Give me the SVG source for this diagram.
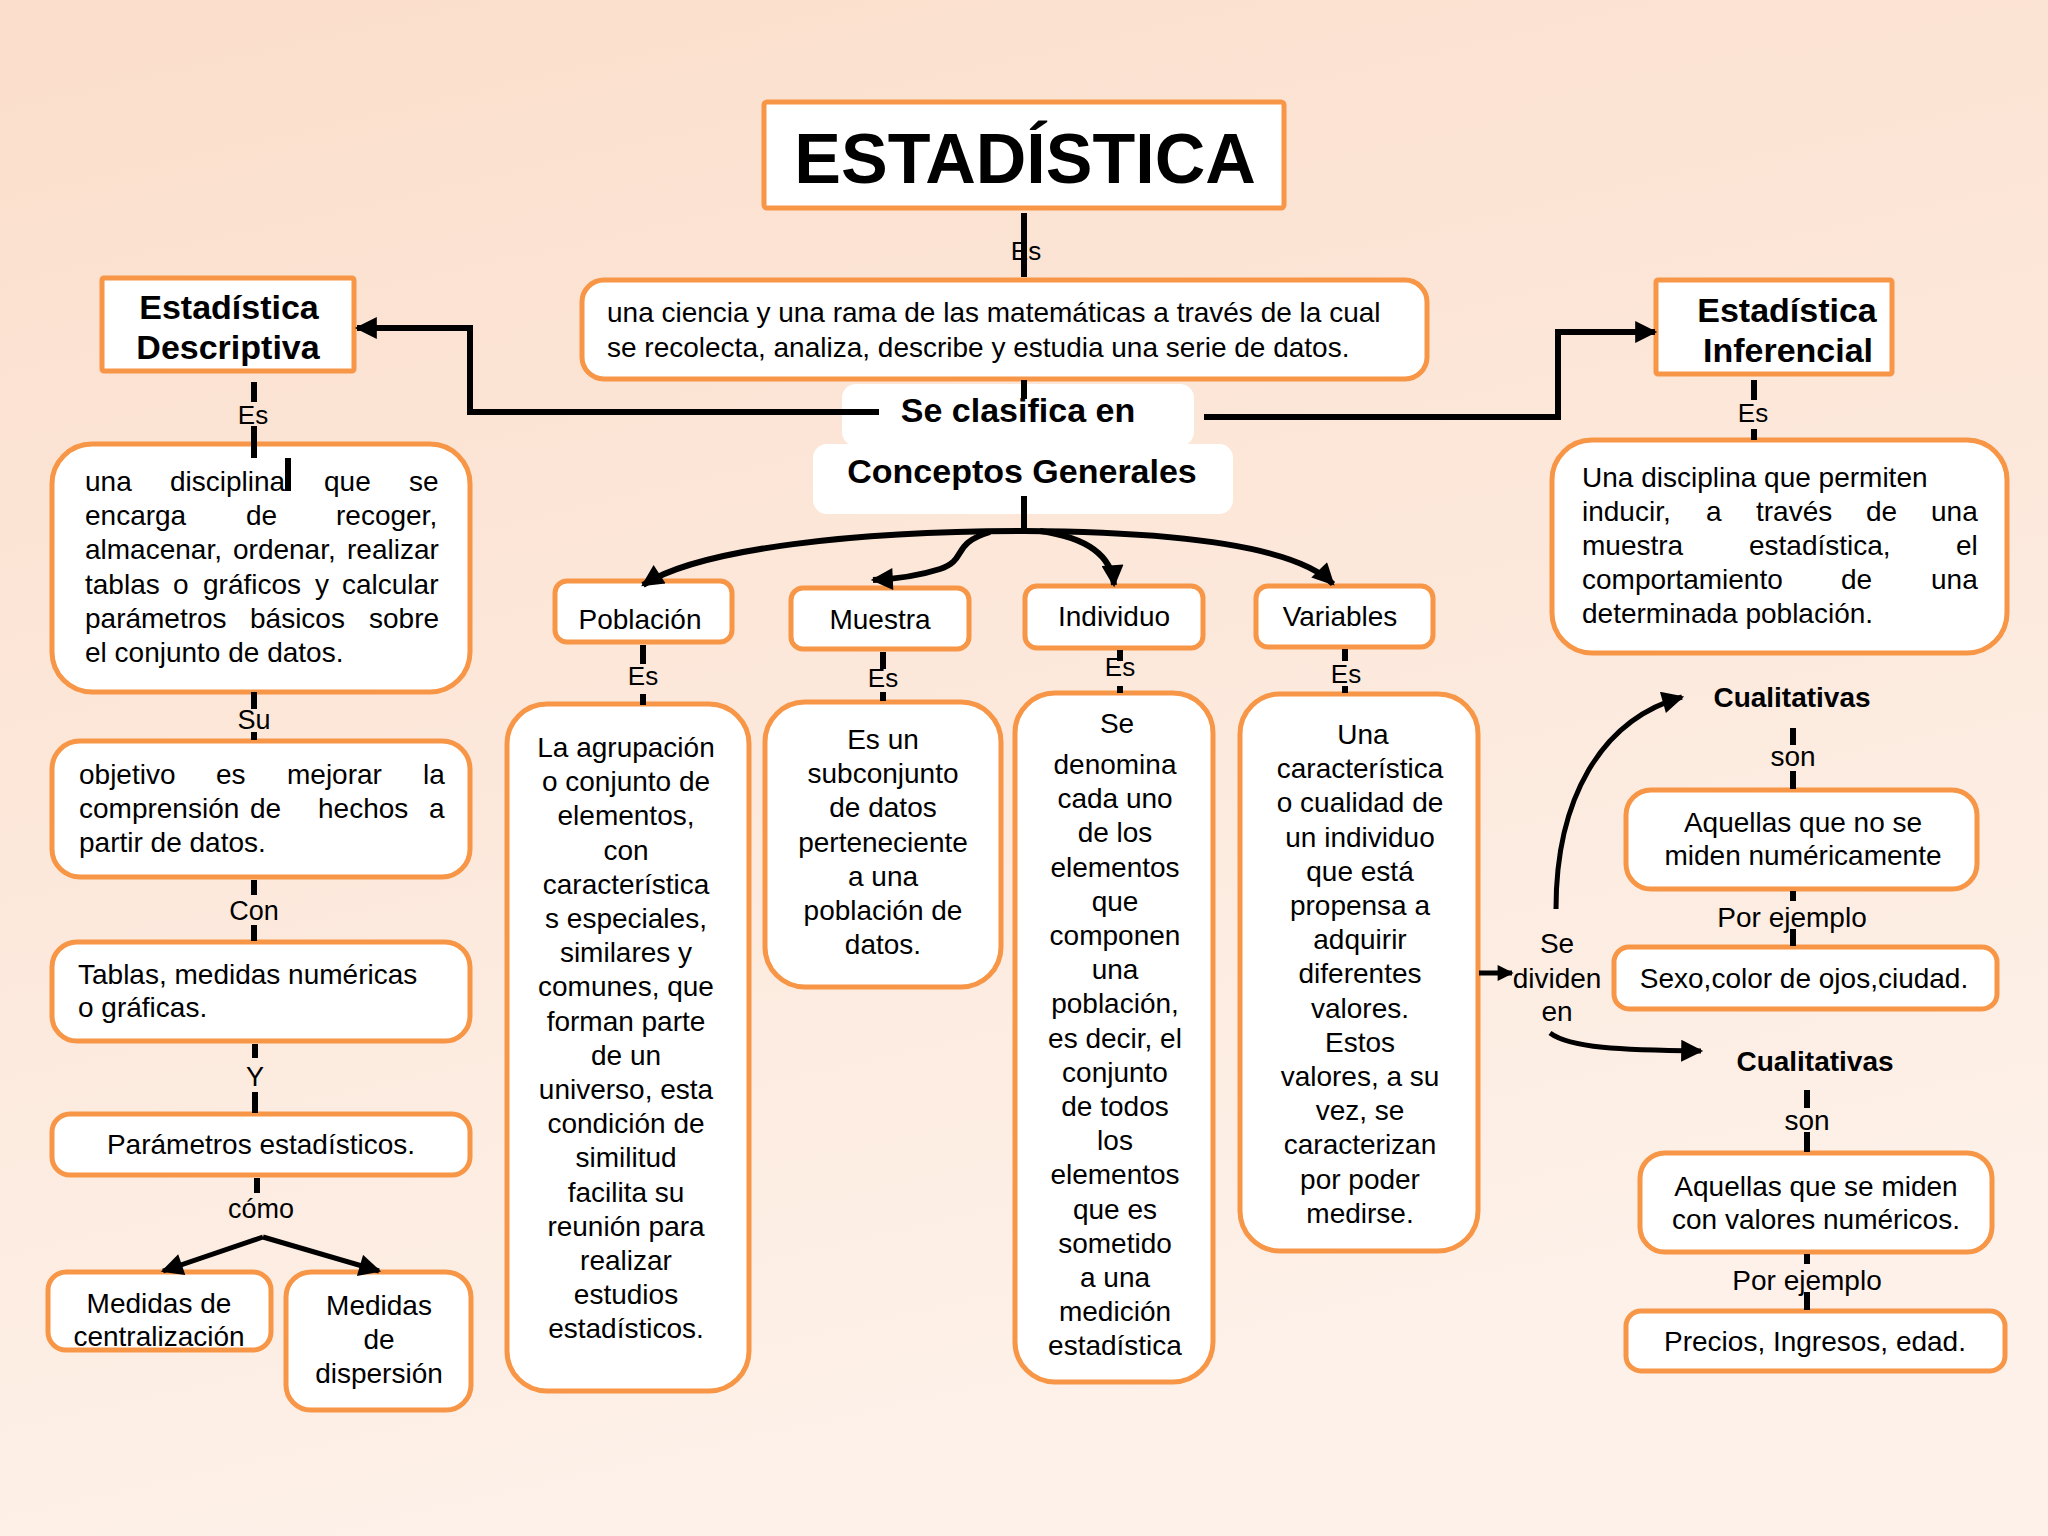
<svg xmlns="http://www.w3.org/2000/svg" width="2048" height="1536" viewBox="0 0 2048 1536">
<defs>
<linearGradient id="bg" x1="0" y1="0" x2="0.3" y2="1">
<stop offset="0" stop-color="#FBDECB"/>
<stop offset="1" stop-color="#FDF1E9"/>
</linearGradient>
<marker id="ah" viewBox="0 0 10 10" refX="9" refY="5" markerWidth="24" markerHeight="22" markerUnits="userSpaceOnUse" orient="auto"><path d="M0,0 L10,5 L0,10 z" fill="#000"/></marker>
<marker id="ahs" viewBox="0 0 10 10" refX="9" refY="5" markerWidth="18" markerHeight="16" markerUnits="userSpaceOnUse" orient="auto"><path d="M0,0 L10,5 L0,10 z" fill="#000"/></marker>
<style>
.t{font-family:"Liberation Sans",Arial,sans-serif;font-size:28px;fill:#000}
.b{font-weight:bold}
.c{text-anchor:middle}
.l{font-family:"Liberation Sans",Arial,sans-serif;font-size:27px;fill:#000;text-anchor:middle}
.box{fill:#fff;stroke:#F79646;stroke-width:5}
.wb{fill:#fff;stroke:none}
.ln{stroke:#000;stroke-width:6;fill:none}
.ar{stroke:#000;stroke-width:6;fill:none;marker-end:url(#ah)}
</style>
</defs>
<rect x="0" y="0" width="2048" height="1536" fill="url(#bg)"/>

<g id="titulo">
<rect class="box" x="764" y="102" width="520" height="106" rx="3"/>
<text class="t b c" x="1025" y="183" style="font-size:70px">ESTADÍSTICA</text>
</g>

<g id="definicion">
<rect class="box" x="582" y="280" width="845" height="99" rx="22"/>
<text class="t" x="607" y="322">una ciencia y una rama de las matemáticas a través de la cual</text>
<text class="t" x="607" y="357">se recolecta, analiza, describe y estudia una serie de datos.</text>
</g>

<g id="se-clasifica">
<rect class="wb" x="842" y="384" width="352" height="62" rx="14"/>
<rect class="wb" x="813" y="444" width="420" height="70" rx="14"/>
<text class="t b c" x="1018" y="422" style="font-size:34px">Se clasifica en</text>
<text class="t b c" x="1022" y="483" style="font-size:34px">Conceptos Generales</text>
</g>

<g id="descriptiva">
<rect class="box" x="102" y="278" width="252" height="93" rx="2"/>
<text class="t b c" x="229" y="319" style="font-size:34px">Estadística</text>
<text class="t b c" x="228" y="359" style="font-size:34px">Descriptiva</text>
</g>

<g id="inferencial">
<rect class="box" x="1656" y="280" width="236" height="94" rx="2"/>
<text class="t b c" x="1787" y="322" style="font-size:34px">Estadística</text>
<text class="t b c" x="1788" y="362" style="font-size:34px">Inferencial</text>
</g>

<g id="descriptiva-def">
<rect class="box" x="52" y="444" width="418" height="248" rx="40"/>
<text class="t" y="491"><tspan x="85">una</tspan><tspan x="170">disciplina</tspan><tspan x="324">que</tspan><tspan x="409">se</tspan></text>
<text class="t" y="525"><tspan x="85">encarga</tspan><tspan x="246">de</tspan><tspan x="336">recoger,</tspan></text>
<text class="t" y="559"><tspan x="85">almacenar,</tspan><tspan x="233">ordenar,</tspan><tspan x="347">realizar</tspan></text>
<text class="t" y="594"><tspan x="85">tablas</tspan><tspan x="173">o</tspan><tspan x="203">gráficos</tspan><tspan x="315">y</tspan><tspan x="342">calcular</tspan></text>
<text class="t" y="628"><tspan x="85">parámetros</tspan><tspan x="250">básicos</tspan><tspan x="369">sobre</tspan></text>
<text class="t" x="85" y="662">el conjunto de datos.</text>
</g>

<g id="objetivo">
<rect class="box" x="52" y="741" width="418" height="136" rx="28"/>
<text class="t" y="784"><tspan x="79">objetivo</tspan><tspan x="216">es</tspan><tspan x="287">mejorar</tspan><tspan x="423">la</tspan></text>
<text class="t" y="818"><tspan x="79">comprensión</tspan><tspan x="250">de</tspan><tspan x="318">hechos</tspan><tspan x="429">a</tspan></text>
<text class="t" x="79" y="852">partir de datos.</text>
</g>

<g id="tablas">
<rect class="box" x="52" y="942" width="418" height="99" rx="25"/>
<text class="t" x="78" y="984">Tablas, medidas numéricas</text>
<text class="t" x="78" y="1017">o gráficas.</text>
</g>

<g id="parametros">
<rect class="box" x="52" y="1114" width="418" height="61" rx="18"/>
<text class="t c" x="261" y="1154">Parámetros estadísticos.</text>
</g>

<g id="centralizacion">
<rect class="box" x="48" y="1272" width="223" height="78" rx="18"/>
<text class="t c" x="159" y="1313">Medidas de</text>
<text class="t c" x="159" y="1346">centralización</text>
</g>

<g id="dispersion">
<rect class="box" x="286" y="1272" width="185" height="138" rx="25"/>
<text class="t c" x="379" y="1315">Medidas</text>
<text class="t c" x="379" y="1349">de</text>
<text class="t c" x="379" y="1383">dispersión</text>
</g>

<g id="poblacion">
<rect class="box" x="555" y="581" width="177" height="61" rx="12"/>
<text class="t c" x="640" y="629">Población</text>
</g>
<g id="poblacion-def">
<rect class="box" x="507" y="704" width="242" height="687" rx="40"/>
<text class="t c" x="626" y="757"><tspan x="626">La agrupación</tspan><tspan x="626" dy="34.2">o conjunto de</tspan><tspan x="626" dy="34.2">elementos,</tspan><tspan x="626" dy="34.2">con</tspan><tspan x="626" dy="34.2">característica</tspan><tspan x="626" dy="34.2">s especiales,</tspan><tspan x="626" dy="34.2">similares y</tspan><tspan x="626" dy="34.2">comunes, que</tspan><tspan x="626" dy="34.2">forman parte</tspan><tspan x="626" dy="34.2">de un</tspan><tspan x="626" dy="34.2">universo, esta</tspan><tspan x="626" dy="34.2">condición de</tspan><tspan x="626" dy="34.2">similitud</tspan><tspan x="626" dy="34.2">facilita su</tspan><tspan x="626" dy="34.2">reunión para</tspan><tspan x="626" dy="34.2">realizar</tspan><tspan x="626" dy="34.2">estudios</tspan><tspan x="626" dy="34.2">estadísticos.</tspan></text>
</g>

<g id="muestra">
<rect class="box" x="791" y="588" width="178" height="61" rx="12"/>
<text class="t c" x="880" y="629">Muestra</text>
</g>
<g id="muestra-def">
<rect class="box" x="765" y="702" width="236" height="285" rx="40"/>
<text class="t c" x="883" y="749"><tspan x="883">Es un</tspan><tspan x="883" dy="34.2">subconjunto</tspan><tspan x="883" dy="34.2">de datos</tspan><tspan x="883" dy="34.2">perteneciente</tspan><tspan x="883" dy="34.2">a una</tspan><tspan x="883" dy="34.2">población de</tspan><tspan x="883" dy="34.2">datos.</tspan></text>
</g>

<g id="individuo">
<rect class="box" x="1025" y="586" width="178" height="62" rx="12"/>
<text class="t c" x="1114" y="626">Individuo</text>
</g>
<g id="individuo-def">
<rect class="box" x="1015" y="693" width="198" height="689" rx="40"/>
<text class="t c" x="1117" y="733">Se</text>
<text class="t c" x="1115" y="774"><tspan x="1115">denomina</tspan><tspan x="1115" dy="34.2">cada uno</tspan><tspan x="1115" dy="34.2">de los</tspan><tspan x="1115" dy="34.2">elementos</tspan><tspan x="1115" dy="34.2">que</tspan><tspan x="1115" dy="34.2">componen</tspan><tspan x="1115" dy="34.2">una</tspan><tspan x="1115" dy="34.2">población,</tspan><tspan x="1115" dy="34.2">es decir, el</tspan><tspan x="1115" dy="34.2">conjunto</tspan><tspan x="1115" dy="34.2">de todos</tspan><tspan x="1115" dy="34.2">los</tspan><tspan x="1115" dy="34.2">elementos</tspan><tspan x="1115" dy="34.2">que es</tspan><tspan x="1115" dy="34.2">sometido</tspan><tspan x="1115" dy="34.2">a una</tspan><tspan x="1115" dy="34.2">medición</tspan><tspan x="1115" dy="34.2">estadística</tspan></text>
</g>

<g id="variables">
<rect class="box" x="1256" y="586" width="177" height="61" rx="12"/>
<text class="t c" x="1340" y="626">Variables</text>
</g>
<g id="variables-def">
<rect class="box" x="1240" y="694" width="238" height="557" rx="40"/>
<text class="t c" x="1360" y="744"><tspan x="1363">Una</tspan><tspan x="1360" dy="34.2">característica</tspan><tspan x="1360" dy="34.2">o cualidad de</tspan><tspan x="1360" dy="34.2">un individuo</tspan><tspan x="1360" dy="34.2">que está</tspan><tspan x="1360" dy="34.2">propensa a</tspan><tspan x="1360" dy="34.2">adquirir</tspan><tspan x="1360" dy="34.2">diferentes</tspan><tspan x="1360" dy="34.2">valores.</tspan><tspan x="1360" dy="34.2">Estos</tspan><tspan x="1360" dy="34.2">valores, a su</tspan><tspan x="1360" dy="34.2">vez, se</tspan><tspan x="1360" dy="34.2">caracterizan</tspan><tspan x="1360" dy="34.2">por poder</tspan><tspan x="1360" dy="34.2">medirse.</tspan></text>
</g>

<g id="inferencial-def">
<rect class="box" x="1552" y="440" width="455" height="213" rx="40"/>
<text class="t" x="1582" y="487">Una disciplina que permiten</text>
<text class="t" y="521"><tspan x="1582">inducir,</tspan><tspan x="1706">a</tspan><tspan x="1756">través</tspan><tspan x="1866">de</tspan><tspan x="1931">una</tspan></text>
<text class="t" y="555"><tspan x="1582">muestra</tspan><tspan x="1749">estadística,</tspan><tspan x="1956">el</tspan></text>
<text class="t" y="589"><tspan x="1582">comportamiento</tspan><tspan x="1841">de</tspan><tspan x="1931">una</tspan></text>
<text class="t" x="1582" y="623">determinada población.</text>
</g>

<g id="cualitativas-1">
<text class="t b c" x="1792" y="707">Cualitativas</text>
</g>
<g id="no-numericas">
<rect class="box" x="1626" y="790" width="351" height="99" rx="25"/>
<text class="t c" x="1803" y="832">Aquellas que no se</text>
<text class="t c" x="1803" y="865">miden numéricamente</text>
</g>
<g id="ejemplo-1">
<rect class="box" x="1614" y="947" width="383" height="62" rx="15"/>
<text class="t c" x="1804" y="988">Sexo,color de ojos,ciudad.</text>
</g>
<g id="cualitativas-2">
<text class="t b c" x="1815" y="1071">Cualitativas</text>
</g>
<g id="numericas">
<rect class="box" x="1640" y="1153" width="352" height="99" rx="25"/>
<text class="t c" x="1816" y="1196">Aquellas que se miden</text>
<text class="t c" x="1816" y="1229">con valores numéricos.</text>
</g>
<g id="ejemplo-2">
<rect class="box" x="1626" y="1311" width="379" height="60" rx="15"/>
<text class="t c" x="1815" y="1351">Precios, Ingresos, edad.</text>
</g>

<g id="connectors">
<!-- title to definition -->
<path class="ln" d="M1024,213 V277"/>
<text class="l" x="1026" y="260" style="font-size:26px">Es</text>
<path class="ln" d="M1024,380 V399"/>
<path class="ln" d="M1024,496 V533"/>
<!-- elbow arrows -->
<path class="ar" d="M879,412 H470 V328 H357"/>
<path class="ar" d="M1204,417 H1558 V332 H1655"/>
<!-- curves from Conceptos Generales -->
<path class="ar" d="M1024,531 C860,531 700,548 643,585"/>
<path class="ar" d="M990,532 C950,544 968,560 940,569 C915,577 895,579 873,580"/>
<path class="ar" d="M1040,531 C1090,538 1112,558 1114,585"/>
<path class="ar" d="M1024,531 C1200,532 1300,550 1333,584"/>
<!-- Descriptiva chain -->
<path class="ln" d="M254,382 V402 M254,426 V458"/>
<text class="l" x="253" y="424" style="font-size:26px">Es</text>
<path class="ln" d="M288,458 V491"/>
<path class="ln" d="M254,692 V709 M254,732 V740"/>
<text class="l" x="254" y="729">Su</text>
<path class="ln" d="M254,880 V895 M254,925 V941"/>
<text class="l" x="254" y="920">Con</text>
<path class="ln" d="M255,1044 V1058 M255,1092 V1113"/>
<text class="l" x="255" y="1086">Y</text>
<path class="ln" d="M257,1178 V1193"/>
<text class="l" x="261" y="1218">cómo</text>
<path class="ar" style="stroke-width:5" d="M263,1237 L163,1271"/>
<path class="ar" style="stroke-width:5" d="M263,1237 L379,1271"/>
<!-- column Es connectors -->
<path class="ln" d="M643,645 V664 M643,694 V705"/>
<text class="l" x="643" y="685" style="font-size:26px">Es</text>
<path class="ln" d="M883,652 V669 M883,692 V701"/>
<text class="l" x="883" y="687" style="font-size:26px">Es</text>
<path class="ln" d="M1120,650 V661 M1120,686 V693"/>
<text class="l" x="1120" y="676" style="font-size:26px">Es</text>
<path class="ln" d="M1345,649 V661 M1345,686 V693"/>
<text class="l" x="1346" y="683" style="font-size:26px">Es</text>
<!-- Inferencial -->
<path class="ln" d="M1754,380 V400 M1754,429 V440"/>
<text class="l" x="1753" y="422" style="font-size:26px">Es</text>
<!-- Se dividen en -->
<path stroke="#000" stroke-width="5" fill="none" marker-end="url(#ahs)" d="M1479,973 H1512"/>
<path class="ar" style="stroke-width:5" d="M1556,909 C1556,800 1600,720 1682,697"/>
<path class="ar" style="stroke-width:5" d="M1550,1033 C1570,1048 1620,1050 1701,1051"/>
<text class="t c" x="1557" y="953">Se</text>
<text class="t c" x="1557" y="988">dividen</text>
<text class="t c" x="1557" y="1021">en</text>
<!-- right chains -->
<path class="ln" d="M1793,728 V745 M1793,771 V789"/>
<text class="l" x="1793" y="766" style="font-size:28px">son</text>
<path class="ln" d="M1793,891 V901 M1793,929 V946"/>
<text class="l" x="1792" y="927" style="font-size:28px">Por ejemplo</text>
<path class="ln" d="M1807,1090 V1108 M1807,1132 V1152"/>
<text class="l" x="1807" y="1130" style="font-size:28px">son</text>
<path class="ln" d="M1807,1254 V1264 M1807,1292 V1310"/>
<text class="l" x="1807" y="1290" style="font-size:28px">Por ejemplo</text>
</g>
</svg>
